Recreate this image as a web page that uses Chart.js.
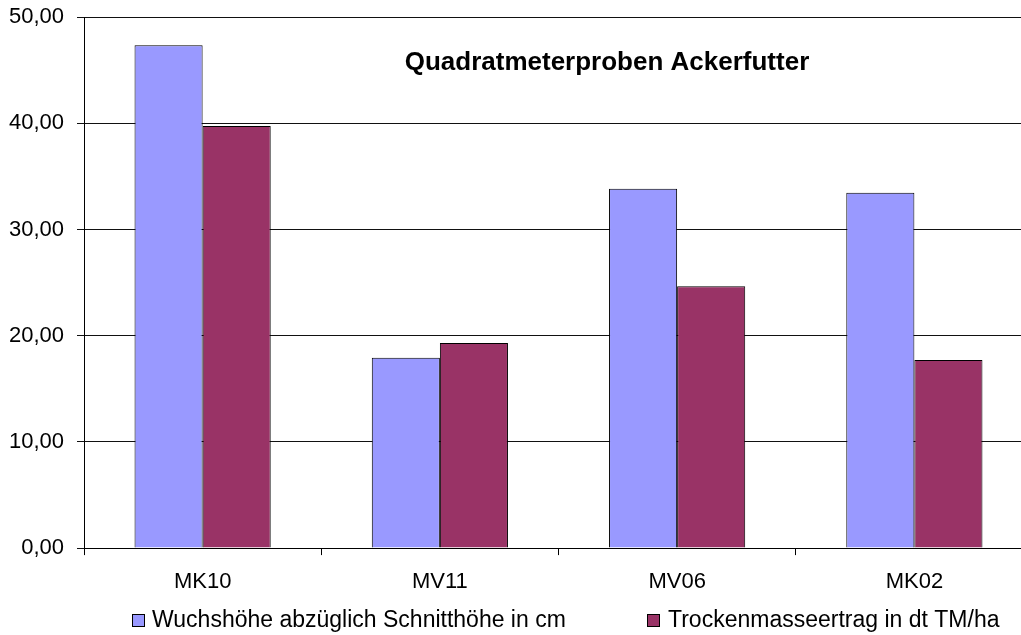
<!DOCTYPE html>
<html>
<head>
<meta charset="utf-8">
<script src="https://cdn.jsdelivr.net/npm/chart.js@4.4.1/dist/chart.umd.min.js"></script>
<style>
  html, body { margin: 0; padding: 0; background: #fff; overflow: hidden; }
  #wrap { width: 1040px; height: 635px; position: relative; }
</style>
</head>
<body>
<div id="wrap"><canvas id="ackerChart"></canvas></div>
<script>
// Werte
const categories = ["MK10", "MV11", "MV06", "MK02"];
const wuchshoehe = [47.34, 17.91, 33.83, 33.45];
const trockenmasse = [39.75, 19.32, 24.65, 17.72];
const seriesNames = ["Wuchshöhe abzüglich Schnitthöhe in cm", "Trockenmasseertrag in dt TM/ha"];
const seriesColors = ["#9999FF", "#993366"];
const yTicks = [0, 10, 20, 30, 40, 50];

const FONT = "'Liberation Sans', Arial, sans-serif";
const chartTitle = "Quadratmeterproben Ackerfutter";

// Titel innerhalb der Zeichenfläche
const titlePlugin = {
  id: "innerTitle",
  afterDraw(chart) {
    const c = chart.ctx;
    c.save();
    c.font = "bold 26px " + FONT;
    c.fillStyle = "#000";
    c.textAlign = "center";
    c.textBaseline = "middle";
    c.fillText(chartTitle, 607, 63);
    c.restore();
  }
};

// Legende unten wie im Original
const legendPlugin = {
  id: "bottomLegend",
  afterDraw(chart) {
    const c = chart.ctx;
    const items = [{ box: 132, text: 152 }, { box: 647, text: 668 }];
    c.save();
    c.font = "23px " + FONT;
    c.textBaseline = "middle";
    items.forEach((it, i) => {
      c.fillStyle = seriesColors[i];
      c.fillRect(it.box, 614, 13, 13);
      c.strokeStyle = "#000";
      c.lineWidth = 1;
      c.strokeRect(it.box + 0.5, 614.5, 12, 12);
      c.fillStyle = "#000";
      c.fillText(seriesNames[i], it.text, 621);
    });
    c.restore();
  }
};

const ctx = document.getElementById("ackerChart").getContext("2d");
const ackerChart = new Chart(ctx, {
  type: "bar",
  data: {
    labels: categories,
    datasets: [{
      label: seriesNames[0],
      data: wuchshoehe,
      backgroundColor: seriesColors[0],
      borderColor: "#000",
      borderWidth: 1,
      categoryPercentage: 0.574,
      barPercentage: 1
    }, {
      label: seriesNames[1],
      data: trockenmasse,
      backgroundColor: seriesColors[1],
      borderColor: "#000",
      borderWidth: 1,
      categoryPercentage: 0.574,
      barPercentage: 1
    }]
  },
  options: {
    responsive: true,
    maintainAspectRatio: false,
    animation: false,
    layout: { padding: { top: 17, right: 7, bottom: 25.5, left: 0 } },
    plugins: {
      legend: { display: false },
      title: { display: false },
      tooltip: { enabled: false }
    },
    scales: {
      x: {
        grid: { drawOnChartArea: false, drawTicks: true, tickLength: 7, color: "#000", offset: true },
        border: { color: "#000", width: 1 },
        ticks: { color: "#000", padding: 14, font: { family: FONT, size: 22 } }
      },
      y: {
        min: 0,
        max: 50,
        afterBuildTicks(scale) {
          scale.ticks = yTicks.map(v => ({ value: v }));
        },
        afterFit(scale) {
          scale.width = 84;
          scale.paddingTop = 0;
          scale.paddingBottom = 0;
        },
        grid: { color: "#111", tickLength: 7, drawTicks: true },
        border: { color: "#000", width: 1 },
        ticks: {
          color: "#000",
          padding: 13,
          font: { family: FONT, size: 22 },
          callback: v => v.toFixed(2).replace(".", ",")
        }
      }
    }
  },
  plugins: [titlePlugin, legendPlugin]
});
</script>
</body>
</html>
